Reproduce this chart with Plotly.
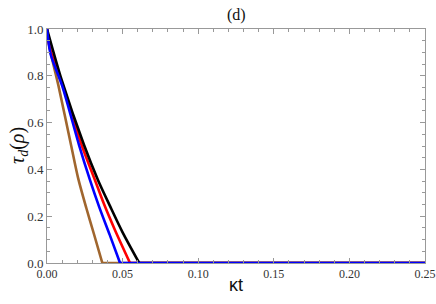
import plotly.graph_objects as go

t_black = [0.0, 0.0097, 0.0245, 0.0337, 0.0417, 0.0500, 0.0610]
y_black = [1.0, 0.782, 0.504, 0.355, 0.243, 0.131, 0.0]
t_red = [0.0, 0.0018, 0.0092, 0.0229, 0.0317, 0.0375, 0.0450, 0.0549]
y_red = [1.0, 0.92, 0.782, 0.504, 0.355, 0.255, 0.14, 0.0]
t_brown = [0.0, 0.0015, 0.0040, 0.0075, 0.0159, 0.0205, 0.0260, 0.0310, 0.0366]
y_brown = [1.0, 0.93, 0.855, 0.76, 0.504, 0.365, 0.235, 0.125, 0.0]
t_blue = [0.0, 0.0024, 0.0101, 0.0212, 0.0284, 0.0345, 0.0415, 0.0483]
y_blue = [1.0, 0.892, 0.756, 0.504, 0.355, 0.24, 0.12, 0.0]
t_end = 0.25

x_ticks = [0.0, 0.05, 0.10, 0.15, 0.20, 0.25]
x_labels = ["0.00", "0.05", "0.10", "0.15", "0.20", "0.25"]
y_ticks = [0.0, 0.2, 0.4, 0.6, 0.8, 1.0]
y_labels = ["0.0", "0.2", "0.4", "0.6", "0.8", "1.0"]

fig = go.Figure()
series = [(t_brown, y_brown, "#A0662E"), (t_red, y_red, "#FF0000"),
          (t_black, y_black, "#000000"), (t_blue, y_blue, "#0000FF")]
for tx, ty, col in series:
    fig.add_trace(go.Scatter(x=[tx[-1], t_end], y=[ty[-1], ty[-1]], mode="lines",
                             line=dict(color=col, width=2.6), showlegend=False, cliponaxis=False))
    fig.add_trace(go.Scatter(x=tx, y=ty, mode="lines",
                             line=dict(color=col, width=2.6, shape="spline", smoothing=0.8),
                             showlegend=False, cliponaxis=False))
fig.add_trace(go.Scatter(x=[0.0], y=[0.0], xaxis="x2", yaxis="y2", mode="markers",
                         marker=dict(opacity=0), showlegend=False, hoverinfo="skip"))

tc = "#999999"
axis_common = dict(showgrid=False, zeroline=False, showline=True, linecolor=tc, automargin=False,
                   linewidth=1, ticks="inside", ticklen=5, tickcolor=tc)
xfont = dict(family="Liberation Serif", size=12, color="#333333")
yfont = dict(family="Liberation Serif", size=13, color="#333333")
xminor = dict(dtick=0.01, ticks="inside", ticklen=3, tickcolor=tc)
yminor = dict(dtick=0.05, ticks="inside", ticklen=3, tickcolor=tc)

fig.update_layout(
    xaxis=dict(range=[0, 0.25], tickvals=x_ticks, ticktext=x_labels, minor=xminor, mirror=True,
               tickfont=xfont, **axis_common),
    yaxis=dict(range=[0, 1.0], tickvals=y_ticks, ticktext=y_labels, minor=yminor, mirror=True,
               tickfont=yfont, **axis_common),
    xaxis2=dict(range=[0, 0.25], tickvals=x_ticks, minor=xminor, overlaying="x", side="top",
                anchor="y2", showticklabels=False, **axis_common),
    yaxis2=dict(range=[0, 1.0], tickvals=y_ticks, minor=yminor, overlaying="y", side="right",
                anchor="x2", showticklabels=False, **axis_common),
    width=436, height=304,
    margin=dict(l=47, r=11, t=29, b=41, autoexpand=False),
    plot_bgcolor="white", paper_bgcolor="white",
    annotations=[
        dict(text="(d)", x=0.5, y=1, xref="paper", yref="paper", xanchor="center", yanchor="middle",
             yshift=14, showarrow=False, font=dict(family="Liberation Serif", size=16, color="#111111")),
        dict(text="κt", x=0.5, y=0, xref="paper", yref="paper", xanchor="center", yanchor="middle",
             yshift=-22, showarrow=False, font=dict(family="Liberation Sans", size=18, color="#111111")),
        dict(text="<i>τ<sub>d</sub></i>(<i>ρ</i>)", x=0, y=0.5, xref="paper", yref="paper",
             xanchor="center", yanchor="middle", xshift=-29, textangle=-90, showarrow=False,
             font=dict(family="Liberation Serif", size=20, color="#111111")),
    ],
)
fig.write_html("out.html", config={"displayModeBar": False},
               post_script="document.body.style.margin='0';document.body.style.overflow='hidden';")
